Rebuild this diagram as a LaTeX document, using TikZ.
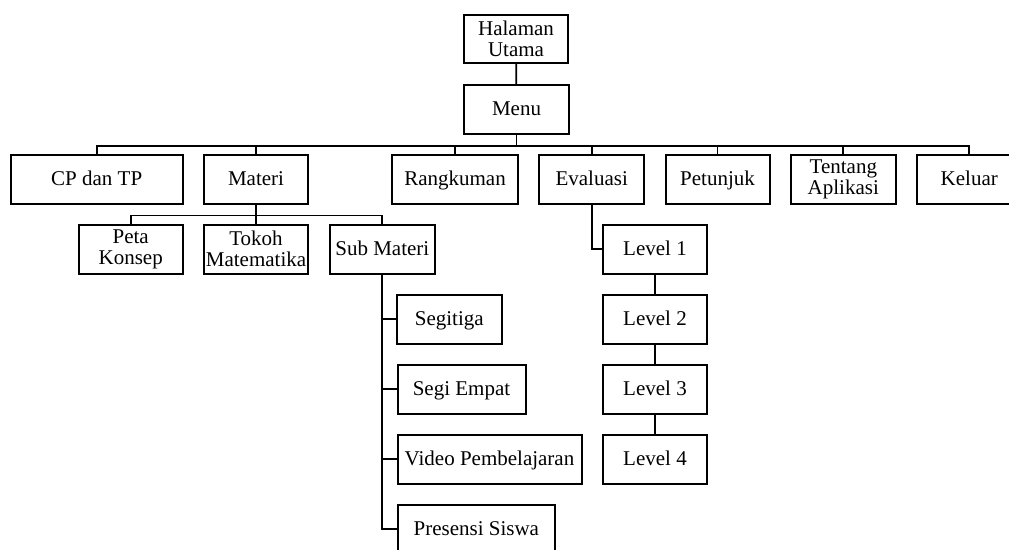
\documentclass[tikz,border=0pt]{standalone}
\usepackage{fontspec}
\setmainfont{Liberation Serif}

\tikzset{
  box/.style={draw, line width=2pt, minimum height=49pt, inner sep=2pt,
    align=center, font=\fontsize{21}{21}\selectfont},
  menubox/.style={box, text height=17pt, text depth=5pt},
  link/.style={line width=1.8pt}
}

\begin{document}
\begin{tikzpicture}[x=1pt, y=-1pt]
    \useasboundingbox (0, 0) rectangle (1009, 549);
    \clip (0, 0) rectangle (1009, 549);
    % top of the tree
    \node[box, minimum width=104pt, minimum height=48pt] (halaman) at (516, 39) {Halaman\\Utama};
    \node[menubox, minimum width=105pt] (menu) at (516.5, 109.5) {Menu};
    % first level
    \node[menubox, minimum width=172pt] (cp) at (96.7, 179) {CP dan TP};
    \node[menubox, minimum width=104pt] (materi) at (256, 179) {Materi};
    \node[menubox, minimum width=126pt] (rangkuman) at (455, 179) {Rangkuman};
    \node[menubox, minimum width=105pt] (evaluasi) at (591.7, 179) {Evaluasi};
    \node[menubox, minimum width=104pt] (petunjuk) at (717.5, 179) {Petunjuk};
    \node[box, minimum width=105pt] (tentang) at (843.3, 179) {Tentang\\Aplikasi};
    \node[menubox, minimum width=104pt] (keluar) at (969.3, 179) {Keluar};
    % under Materi
    \node[box, minimum width=104pt] (peta) at (130.7, 249) {Peta\\Konsep};
    \node[box, minimum width=104pt] (tokoh) at (256, 249) {Tokoh\\Matematika};
    \node[menubox, minimum width=105pt] (sub) at (382.3, 249) {Sub Materi};
    % under Sub Materi
    \node[menubox, minimum width=105pt] (segitiga) at (449.3, 319) {Segitiga};
    \node[menubox, minimum width=128pt] (segiempat) at (461.5, 389) {Segi Empat};
    \node[menubox, minimum width=184pt] (video) at (489.5, 459) {Video Pembelajaran};
    \node[menubox, minimum width=157pt] (presensi) at (476.3, 529) {Presensi Siswa};
    % under Evaluasi
    \foreach \i in {1, 2, 3, 4} {
      \node[menubox, minimum width=104pt] (level\i) at (655, 179+70*\i) {Level \i};
      }

    \draw[link] (halaman) -- (menu);
    \foreach \n in {cp, materi, rangkuman, evaluasi, petunjuk, tentang, keluar} {
      \draw[link] (menu.south) -- ++(0, 11) -| (\n.north);
      }
    \foreach \n in {peta, tokoh, sub} {
      \draw[link] (materi.south) -- ++(0, 11) -| (\n.north);
      }
    \foreach \n in {segitiga, segiempat, video, presensi} {
      \draw[link] (sub.south) |- (\n.west);
      }
    \draw[link] (evaluasi.south) |- (level1.west);
    \draw[link] (level1) -- (level2);
    \draw[link] (level2) -- (level3);
    \draw[link] (level3) -- (level4);
  \end{tikzpicture}
\end{document}
